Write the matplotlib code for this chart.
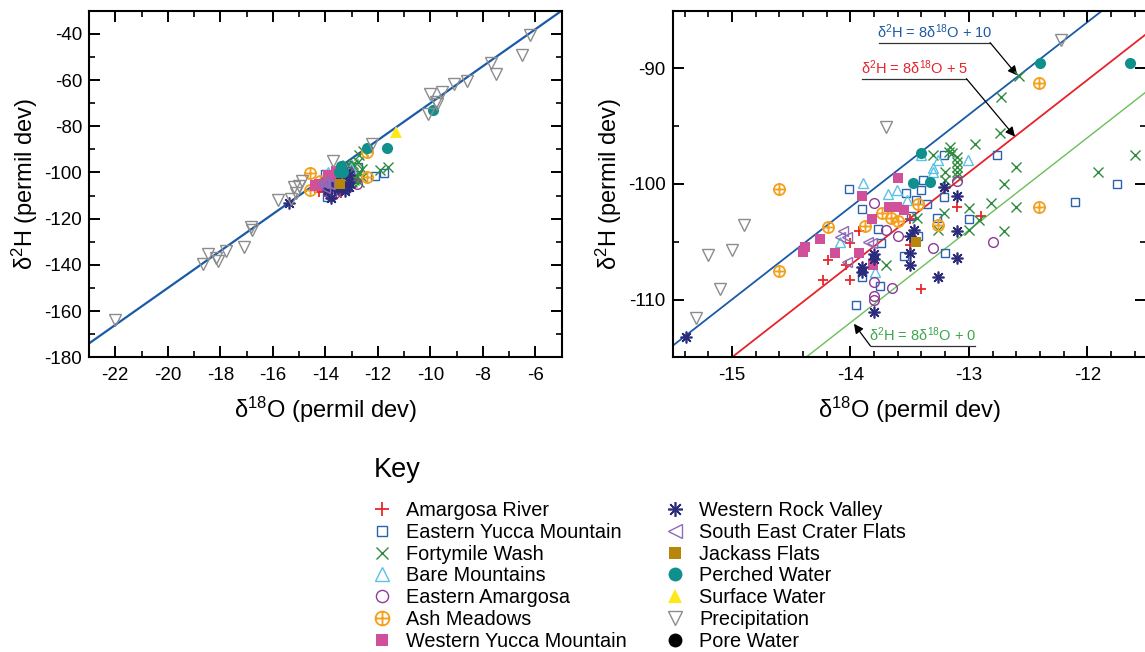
import matplotlib
matplotlib.use("Agg")
import matplotlib.pyplot as plt
from matplotlib.path import Path
from matplotlib.ticker import MultipleLocator
import numpy as np

plt.rcParams['font.family'] = ['Liberation Sans', 'DejaVu Sans']
plt.rcParams['mathtext.fontset'] = 'custom'
plt.rcParams['mathtext.rm'] = 'Liberation Sans'
plt.rcParams['mathtext.default'] = 'regular'
plt.rcParams['axes.unicode_minus'] = False

# ---------------- data (d18O, d2H) ----------------
amargosa_x = [-14.23, -14.19, -14.04, -14.00, -14.00, -13.93, -13.50, -13.50, -13.40, -13.10, -12.90]
amargosa_y = [-108.3, -106.55, -107.0, -105.1, -108.3, -104.1, -103.05, -105.3, -109.05, -102.0, -102.75]

eyucca_x = [-14.01, -13.90, -13.77, -13.74, -13.90, -13.75, -13.95, -13.55, -13.43, -13.20, -13.00, -13.27,
            -13.21, -13.21, -13.39, -13.40, -13.53, -13.45, -13.49, -13.35, -12.76, -12.10, -11.75]
eyucca_y = [-100.47, -102.17, -103.87, -105.1, -108.03, -108.8, -110.45, -106.25, -104.53, -106.0, -103.0, -102.95,
            -101.1, -97.5, -99.66, -100.5, -100.81, -101.4, -102.78, -101.74, -97.5, -101.53, -100.03]

forty_x = [-12.58, -12.73, -12.74, -12.95, -12.60, -12.70, -12.81, -12.60, -11.91, -11.60, -13.00, -13.17, -13.14,
           -13.10, -13.10, -13.10, -13.10, -13.10, -13.20, -13.20, -13.30, -13.44, -13.26, -13.70, -13.21, -13.00,
           -12.91, -12.70, -13.16]
forty_y = [-90.65, -92.5, -95.62, -96.5, -98.5, -100.0, -101.65, -102.0, -99.0, -97.5, -102.05, -97.2, -97.35,
           -97.64, -98.07, -98.5, -98.94, -99.31, -98.94, -99.66, -97.49, -102.95, -104.0, -107.0, -102.5, -104.0,
           -103.1, -104.05, -96.8]

bare_x = [-13.89, -13.68, -13.61, -13.40, -13.26, -13.01, -13.30, -13.30, -13.52, -14.09, -13.79]
bare_y = [-99.89, -100.9, -100.55, -97.5, -97.93, -97.93, -98.6, -99.0, -101.4, -104.99, -107.6]

eamarg_x = [-13.80, -13.70, -13.60, -13.30, -12.80, -13.80, -13.65, -13.80, -13.80, -13.10]
eamarg_y = [-101.65, -104.0, -104.53, -105.55, -105.0, -108.5, -109.04, -109.66, -110.05, -99.7]

ash_x = [-14.60, -14.60, -14.19, -13.88, -13.73, -13.66, -13.60, -13.43, -13.26, -12.41, -12.41]
ash_y = [-100.4, -107.5, -103.75, -103.65, -102.5, -102.95, -103.2, -101.7, -103.55, -91.3, -102.0]

wyucca_x = [-13.60, -13.90, -13.82, -13.67, -13.61, -13.55, -14.26, -14.38, -14.40, -14.13, -13.93, -13.81]
wyucca_y = [-99.51, -101.03, -103.0, -101.97, -101.97, -102.26, -104.8, -105.43, -105.86, -106.01, -106.01, -107.02]

wrock_x = [-15.39, -13.21, -13.10, -13.46, -13.50, -13.50, -13.50, -13.80, -13.80, -13.90, -13.90, -13.10,
           -13.10, -13.26, -13.80]
wrock_y = [-113.25, -100.29, -101.0, -104.0, -104.53, -106.01, -107.02, -106.05, -106.5, -107.16, -107.6, -104.06,
           -106.37, -108.03, -111.06]

secf_x = [-14.06, -14.03, -14.09, -13.85, -13.82, -14.03]
secf_y = [-104.1, -104.56, -104.62, -105.0, -105.14, -106.73]

jackass_x = [-13.45]
jackass_y = [-105.0]

perched_x = [-13.40, -13.47, -13.33, -12.40, -11.64, -9.90]
perched_y = [-97.3, -99.95, -99.8, -89.5, -89.55, -73.0]

surface_x = [-11.32]
surface_y = [-82.5]

precip_x = [-22.0, -18.65, -18.45, -18.1, -18.15, -17.8, -17.1, -16.85, -16.8, -15.8, -15.3, -15.2, -15.1, -15.0,
            -14.9, -13.7, -12.22, -10.1, -10.0, -9.8, -9.75, -9.55, -9.1, -8.6, -7.7, -7.5, -6.5, -6.2]
precip_y = [-163.8, -139.5, -135.3, -138.5, -137.0, -133.8, -132.3, -123.5, -124.8, -112.1, -111.6, -106.15,
            -109.1, -105.7, -103.55, -95.1, -87.5, -74.5, -66.2, -69.5, -70.5, -65.3, -61.6, -60.6, -52.8,
            -57.2, -49.0, -40.7]

pore_x = []
pore_y = []

# meteoric water lines: d2H = 8 d18O + b
lmwl_slope = 8
lmwl_offsets = [10, 5, 0]
line_labels = [r'$\delta^2$H = 8$\delta^{18}$O + 10', r'$\delta^2$H = 8$\delta^{18}$O + 5',
               r'$\delta^2$H = 8$\delta^{18}$O + 0']

# ---------------- styles ----------------
oplus = Path.make_compound_path(
    Path.unit_circle(),
    Path([(-1, 0), (1, 0), (0, -1), (0, 1)], [Path.MOVETO, Path.LINETO, Path.MOVETO, Path.LINETO]))

series = [
    ("Amargosa River", amargosa_x, amargosa_y, dict(marker='+', color='#e8262b', ms=7.5, mew=1.3)),
    ("Eastern Yucca Mountain", eyucca_x, eyucca_y, dict(marker='s', mfc='none', mec='#2a62ad', ms=6, mew=1.0)),
    ("Fortymile Wash", forty_x, forty_y, dict(marker='x', color='#2e8b3e', ms=7, mew=1.0)),
    ("Bare Mountains", bare_x, bare_y, dict(marker='^', mfc='none', mec='#5bc2e7', ms=7.5, mew=1.0)),
    ("Eastern Amargosa", eamarg_x, eamarg_y, dict(marker='o', mfc='none', mec='#8e3a96', ms=7, mew=1.0)),
    ("Ash Meadows", ash_x, ash_y, dict(marker=oplus, mfc='none', mec='#f5a01a', ms=8, mew=1.3)),
    ("Western Yucca Mountain", wyucca_x, wyucca_y, dict(marker='s', color='#d0509a', ms=6.5, mew=0)),
    ("Western Rock Valley", wrock_x, wrock_y, dict(marker=(8, 2, 0), color='#2c2c7c', ms=8.5, mew=1.2)),
    ("South East Crater Flats", secf_x, secf_y, dict(marker='<', mfc='none', mec='#8f6bb8', ms=7.5, mew=1.0)),
    ("Jackass Flats", jackass_x, jackass_y, dict(marker='s', color='#b8860b', ms=6.5, mew=0)),
    ("Perched Water", perched_x, perched_y, dict(marker='o', color='#10908c', ms=8, mew=0)),
    ("Surface Water", surface_x, surface_y, dict(marker='^', color='#ffe81a', ms=8.5, mew=0)),
    ("Precipitation", precip_x, precip_y, dict(marker='v', mfc='none', mec='#8c8c8c', ms=8, mew=1.0)),
    ("Pore Water", pore_x, pore_y, dict(marker='o', color='black', ms=8, mew=0)),
]

W, H = 1145, 652
fig = plt.figure(figsize=(W / 100, H / 100), dpi=100)
ax1 = fig.add_axes([89 / W, 1 - 357.3 / H, 472.7 / W, 346.6 / H])
ax2 = fig.add_axes([672.7 / W, 1 - 357.3 / H, 473.8 / W, 346.6 / H])

ax1.set_xlim(-23, -5)
ax1.set_ylim(-180, -30)
ax2.set_xlim(-15.5, -11.5)
ax2.set_ylim(-115, -85)

# lines
xx1 = np.array(ax1.get_xlim())
ax1.plot(xx1, lmwl_slope * xx1 + lmwl_offsets[0], color='#1a5aa6', lw=1.6, zorder=1)
xx2 = np.array(ax2.get_xlim())
line_colors = ['#1a5aa6', '#e8222a', '#6abf5a']
line_widths = [1.3, 1.3, 1.0]
for b, c, lw in zip(lmwl_offsets, line_colors, line_widths):
    ax2.plot(xx2, lmwl_slope * xx2 + b, color=c, lw=lw, zorder=1)

handles = []
for name, xs, ys, st in series:
    h, = ax1.plot(xs, ys, ls='none', label=name, zorder=3, **st)
    ax2.plot(xs, ys, ls='none', zorder=3, **st)
    handles.append(h)

for ax, xmaj, xmin, ymaj, ymin in [(ax1, 2, 1, 20, 10), (ax2, 1, 0.2, 10, 5)]:
    ax.xaxis.set_major_locator(MultipleLocator(xmaj))
    ax.xaxis.set_minor_locator(MultipleLocator(xmin))
    ax.yaxis.set_major_locator(MultipleLocator(ymaj))
    ax.yaxis.set_minor_locator(MultipleLocator(ymin))
    ax.tick_params(which='both', direction='in', top=True, right=True)
    ax.tick_params(which='major', length=8, width=1.4, labelsize=13.5, pad=7)
    ax.tick_params(which='minor', length=4, width=1.2)
    ax.tick_params(axis='y', which='major', pad=5)
    for sp in ax.spines.values():
        sp.set_linewidth(1.5)
    ax.set_xlabel('δ$^{18}$O (permil dev)', fontsize=17, labelpad=8)
    ax.set_ylabel('δ$^{2}$H (permil dev)', fontsize=17, labelpad=3)

# annotations on right plot
ann = [
    (line_labels[0], -13.29, -87.77, -13.76, -12.82, -12.82, -12.59, -90.6, '#1a5aa6'),
    (line_labels[1], -13.46, -90.89, -13.90, -13.02, -13.02, -12.61, -95.9, '#e8222a'),
    (line_labels[2], -13.39, -114.03, -13.83, -12.945, -13.83, -13.97, -112.1, '#3aa64a'),
]
for txt, tx, uy, ux0, ux1, ax0, tipx, tipy, col in ann:
    ax2.text(tx, uy + 0.15, txt, color=col, fontsize=10.5, ha='center', va='bottom')
    ax2.plot([ux0, ux1], [uy, uy], color='#333333', lw=0.9, zorder=2)
    ax2.annotate('', xy=(tipx, tipy), xytext=(ax0, uy),
                 arrowprops=dict(arrowstyle='-|>', color='black', lw=0.9, mutation_scale=14,
                                 shrinkA=0, shrinkB=0), zorder=2)

fig.text(374 / W, 1 - 470 / H, 'Key', fontsize=19.5, va='center', ha='left')
fig.legend(handles=handles, loc='upper left', bbox_to_anchor=(374 / W, 1 - 501 / H), ncol=2,
           frameon=False, fontsize=14.3, handlelength=0.8, handletextpad=0.8, columnspacing=2.05,
           labelspacing=0.14, borderpad=0, borderaxespad=0, numpoints=1, markerscale=1.25)

fig.savefig('out.png', dpi=100)
